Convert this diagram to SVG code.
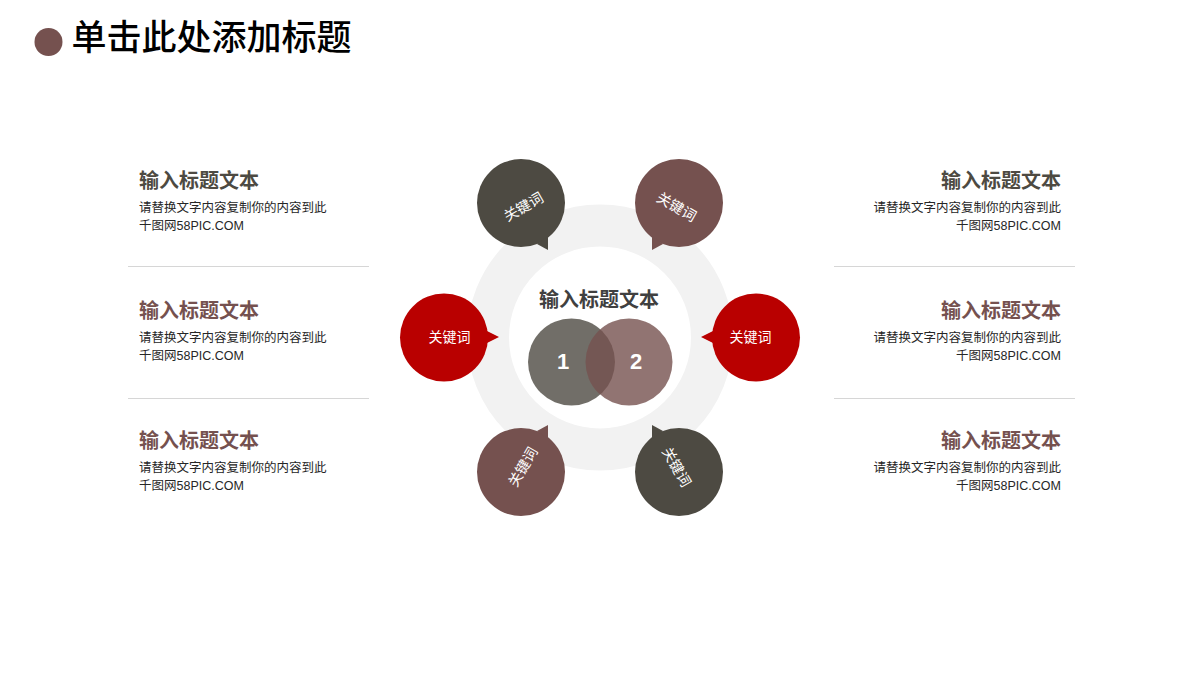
<svg xmlns="http://www.w3.org/2000/svg" width="1200" height="675" viewBox="0 0 1200 675">
<style>
text{font-family:"Liberation Sans","Noto Sans CJK SC",sans-serif}
.h{font-size:20px;font-weight:700;font-family:"Noto Sans CJK SC",sans-serif}
.b{font-size:12.5px;fill:#262626}
.k{font-size:14px;fill:#fff;text-anchor:middle;dominant-baseline:central}
.t{font-size:14.300px}
.r{text-anchor:end}
.dk{fill:#4d4a42}.br{fill:#75514f}.rd{fill:#b90000}
.ln{stroke:#d6d6d6;stroke-width:1.2}
</style>
<rect width="1200" height="675" fill="#fff"/>
<g id="title"><circle cx="48.500" cy="42" r="14" class="br"/><text x="71.500" y="50" font-size="35" font-weight="500" fill="#000" style="font-family:'Noto Sans CJK SC',sans-serif">单击此处添加标题</text></g>
<g id="ring"><circle cx="600" cy="337.500" r="112" fill="none" stroke="#f2f2f2" stroke-width="42"/></g>
<g id="center-title"><text x="599" y="307" text-anchor="middle" class="h" fill="#404040">输入标题文本</text></g>
<g id="venn-1"><circle cx="571.500" cy="362" r="43.500" class="dk" fill-opacity=".8"/><text x="563" y="369" text-anchor="middle" font-size="22" font-weight="700" fill="#fff">1</text></g>
<g id="venn-2"><circle cx="629" cy="362" r="43.500" class="br" fill-opacity=".8"/><text x="636" y="369" text-anchor="middle" font-size="22" font-weight="700" fill="#fff">2</text></g>
<g id="bubble-tl"><circle cx="521" cy="203" r="44" class="dk"/><path d="M537 244L548 250V236Z" class="dk"/><text class="k t" transform="translate(523.500 207) rotate(-30)">关键词</text></g>
<g id="bubble-tr"><circle cx="679" cy="203" r="44" class="br"/><path d="M663 244L652 250V236Z" class="br"/><text class="k t" transform="translate(676.500 207) rotate(30)">关键词</text></g>
<g id="bubble-l"><circle cx="444" cy="337.500" r="44" class="rd"/><path d="M485 330L499 337L485 344Z" class="rd"/><text class="k" x="449.500" y="337">关键词</text></g>
<g id="bubble-r"><circle cx="756" cy="337.500" r="44" class="rd"/><path d="M715 330L701 337L715 344Z" class="rd"/><text class="k" x="750.500" y="337">关键词</text></g>
<g id="bubble-bl"><circle cx="521" cy="472" r="44" class="br"/><path d="M537 431L548 425V439Z" class="br"/><text class="k t" transform="translate(523 467) rotate(-60)">关键词</text></g>
<g id="bubble-br"><circle cx="679" cy="472" r="44" class="dk"/><path d="M663 431L652 425V439Z" class="dk"/><text class="k t" transform="translate(676.500 467) rotate(60)">关键词</text></g>
<g id="dividers"><path class="ln" d="M128 266.500H369M128 398.500H369M834 266.500H1075M834 398.500H1075"/></g>
<g id="left-1"><text x="139" y="187.500" class="h dk">输入标题文本</text><text x="139" y="212.300" class="b">请替换文字内容复制你的内容到此</text><text x="139" y="230" class="b">千图网58PIC.COM</text></g>
<g id="left-2"><text x="139" y="318" class="h br">输入标题文本</text><text x="139" y="342.300" class="b">请替换文字内容复制你的内容到此</text><text x="139" y="360" class="b">千图网58PIC.COM</text></g>
<g id="left-3"><text x="139" y="448" class="h br">输入标题文本</text><text x="139" y="472.300" class="b">请替换文字内容复制你的内容到此</text><text x="139" y="490" class="b">千图网58PIC.COM</text></g>
<g id="right-1"><text x="1061" y="187.500" class="h dk r">输入标题文本</text><text x="1061" y="212.300" class="b r">请替换文字内容复制你的内容到此</text><text x="1061" y="230" class="b r">千图网58PIC.COM</text></g>
<g id="right-2"><text x="1061" y="318" class="h br r">输入标题文本</text><text x="1061" y="342.300" class="b r">请替换文字内容复制你的内容到此</text><text x="1061" y="360" class="b r">千图网58PIC.COM</text></g>
<g id="right-3"><text x="1061" y="448" class="h br r">输入标题文本</text><text x="1061" y="472.300" class="b r">请替换文字内容复制你的内容到此</text><text x="1061" y="490" class="b r">千图网58PIC.COM</text></g>
</svg>
